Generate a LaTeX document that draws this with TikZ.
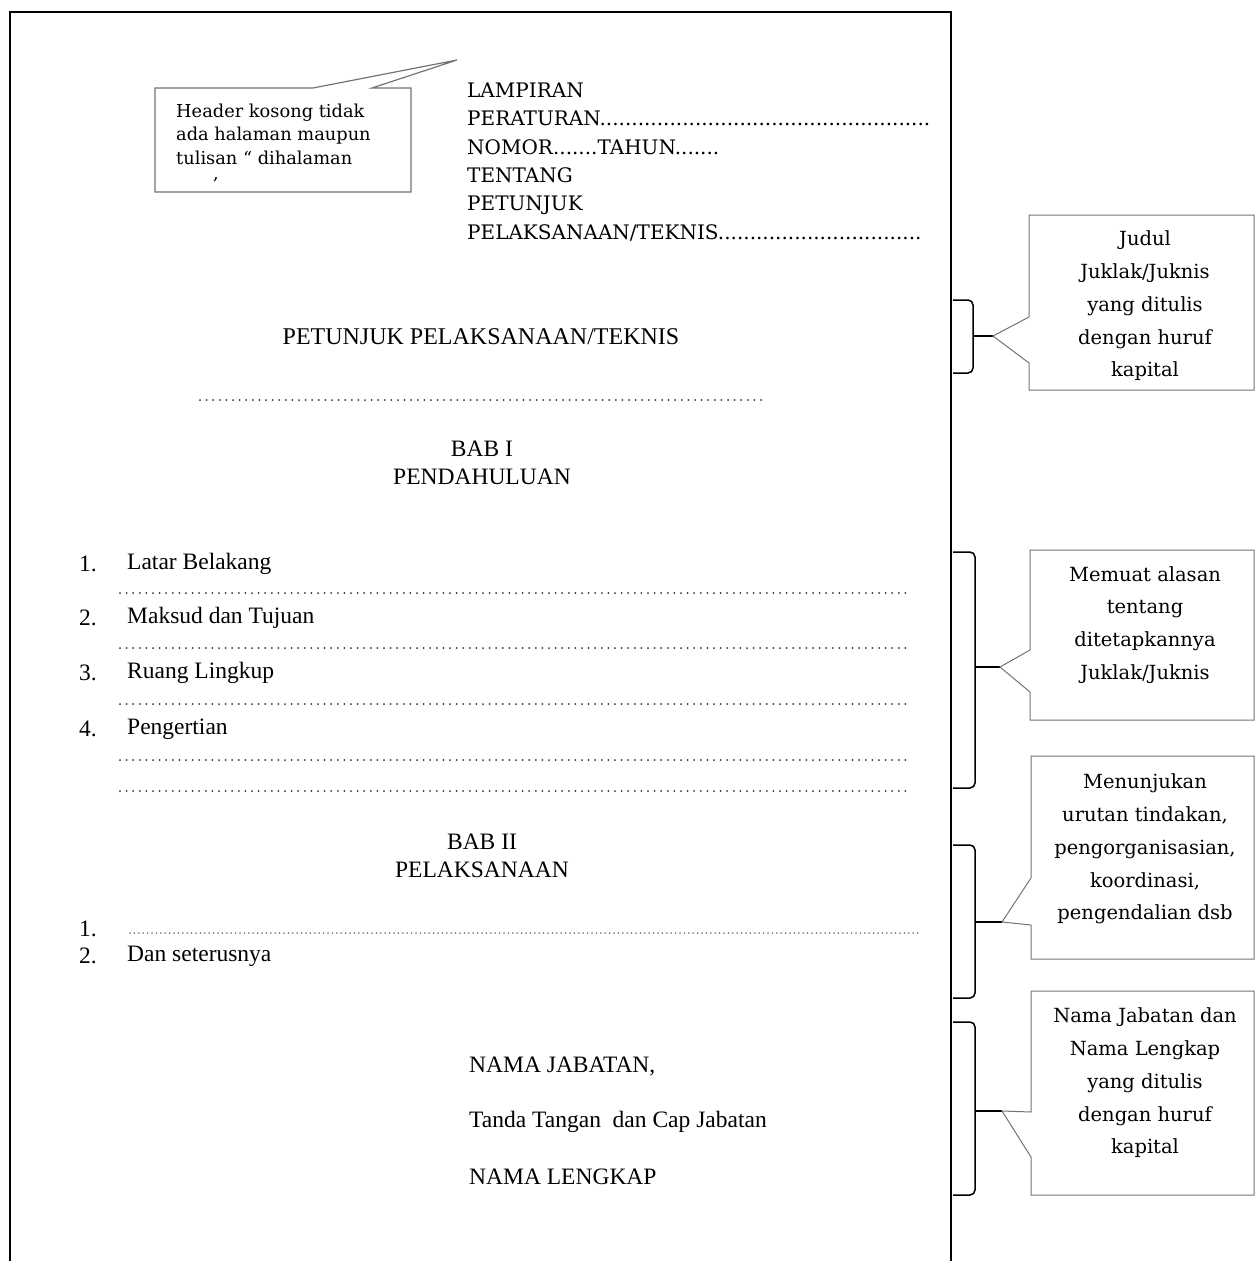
\documentclass[tikz,border=0pt]{standalone}
\usepackage{fontspec}
\setmainfont{Liberation Serif}
\newfontfamily\cambria{DejaVu Serif}
\usepackage{tikz}
\tikzstyle{body}=[inner sep=0pt,font=\fontsize{23.5}{27}\selectfont]
\tikzstyle{head}=[inner sep=0pt,align=left,font=\cambria\fontsize{20}{28.4}\selectfont]
\tikzstyle{hnote}=[inner sep=0pt,align=left,font=\cambria\fontsize{17.8}{23.5}\selectfont]
\tikzstyle{note}=[inner sep=0pt,align=center,font=\cambria\fontsize{19.5}{32.8}\selectfont]
\tikzstyle{leader}=[line width=2pt,line cap=round,dash pattern=on 0pt off 6.6pt,black!80]
\tikzstyle{brace}=[line width=1.5pt,rounded corners=5pt]
\tikzstyle{bubble}=[draw=black!55,line width=1pt]
\newcommand{\txt}{\node[body]}

\begin{document}
\begin{tikzpicture}[x=1pt,y=-1pt]
		\useasboundingbox (0,0) rectangle (1256,1261);
		% % % % % % % % % % % % % % % % % % % % % % % % % % % % %
		% page
		\draw[line width=1.4pt] (10,1261) -- (10,12) -- (951,12) -- (951,1261);
		%*********************
		% header note
		\draw[bubble,line width=1.2pt] (155,88) -- (313,88) -- (457,60) -- (372,88) -- (411,88) -- (411,192) -- (155,192) -- cycle;
		\node[hnote,anchor=west] (hn) at (176,134) {Header kosong tidak\\ada halaman maupun\\tulisan “ dihalaman};
		\node[hnote] (hc) at (216,180) {,};
		%*********************
		\node[head,anchor=west] (lamp) at (467,162) {LAMPIRAN\\PERATURAN....................................................\\NOMOR.......TAHUN.......\\TENTANG\\PETUNJUK\\PELAKSANAAN/TEKNIS................................};
		%*********************
		\txt [font=\fontsize{24}{27}\selectfont] (judul) at (481,337) {PETUNJUK PELAKSANAAN/TEKNIS};
		\txt (bab1) at (482,449) {BAB I};
		\txt (pend) at (482,477) {PENDAHULUAN};
		%*********************
		\txt [anchor=west] (n1) at (79,564) {1.};
		\txt [anchor=west] (i1) at (127,564) {Latar Belakang};
		\txt [anchor=west] (n2) at (79,618) {2.};
		\txt [anchor=west] (i2) at (127,618) {Maksud dan Tujuan};
		\txt [anchor=west] (n3) at (79,673) {3.};
		\txt [anchor=west] (i3) at (127,673) {Ruang Lingkup};
		\txt [anchor=west] (n4) at (79,729) {4.};
		\txt [anchor=west] (i4) at (127,729) {Pengertian};
		%*********************
		\txt (bab2) at (482,842) {BAB II};
		\txt (pel) at (482,870) {PELAKSANAAN};
		\txt [anchor=west] (m1) at (79,929) {1.};
		\txt [anchor=west] (m2) at (79,956) {2.};
		\txt [anchor=west] (j2) at (127,956) {Dan seterusnya};
		%*********************
		\txt [anchor=west] (jab) at (469,1067) {NAMA JABATAN,};
		\txt [anchor=west] (ttd) at (469,1122) {Tanda Tangan\ \ dan Cap Jabatan};
		\txt [anchor=west] (nama) at (469,1177) {NAMA LENGKAP};
		%*********************
		% dotted lines
		\path[leader]
		(200,400) edge [] (763,400)
		(120,593) edge [] (910,593)
		(120,648) edge [] (910,648)
		(120,704) edge [] (910,704)
		(120,760) edge [] (910,760)
		(120,791) edge [] (910,791)
		(130,933) edge [dash pattern=on 0pt off 4.4pt,line width=1.5pt] (920,933)
		;
		%*********************
		% brackets and notes on the right
		\coordinate (t1) at (993,336);
		\coordinate (t2) at (1000,667);
		\coordinate (t3) at (1002,922);
		\coordinate (t4) at (1002,1111);
		%***********************
		\draw[brace] (953,300) -| (973,336) |- (953,373);
		\draw[brace] (973,336) -- (t1);
		\draw[brace] (953,552) -| (975,667) |- (953,788);
		\draw[brace] (975,667) -- (t2);
		\draw[brace] (953,845) -| (975,922) |- (953,998);
		\draw[brace] (975,922) -- (t3);
		\draw[brace] (953,1022) -| (975,1111) |- (953,1195);
		\draw[brace] (975,1111) -- (t4);
		%***********************
		\draw[bubble] (1029,215) -- (1254,215) -- (1254,390) -- (1029,390) -- (1029,363) -- (t1) -- (1029,317) -- cycle;
		\draw[bubble] (1030,550) -- (1254,550) -- (1254,720) -- (1030,720) -- (1030,692) -- (t2) -- (1030,650) -- cycle;
		\draw[bubble] (1031,756) -- (1254,756) -- (1254,959) -- (1031,959) -- (1031,925) -- (t3) -- (1031,878) -- cycle;
		\draw[bubble] (1031,991) -- (1254,991) -- (1254,1195) -- (1031,1195) -- (1031,1157) -- (t4) -- (1031,1112) -- cycle;
		%***********************
		\node[note] (c1) at (1145,306) {Judul\\Juklak/Juknis\\yang ditulis\\dengan huruf\\kapital};
		\node[note] (c2) at (1145,625) {Memuat alasan\\tentang\\ditetapkannya\\Juklak/Juknis};
		\node[note] (c3) at (1145,849) {Menunjukan\\urutan tindakan,\\pengorganisasian,\\koordinasi,\\pengendalian dsb};
		\node[note] (c4) at (1145,1083) {Nama Jabatan dan\\Nama Lengkap\\yang ditulis\\dengan huruf\\kapital};
		%***************
\end{tikzpicture}
\end{document}
